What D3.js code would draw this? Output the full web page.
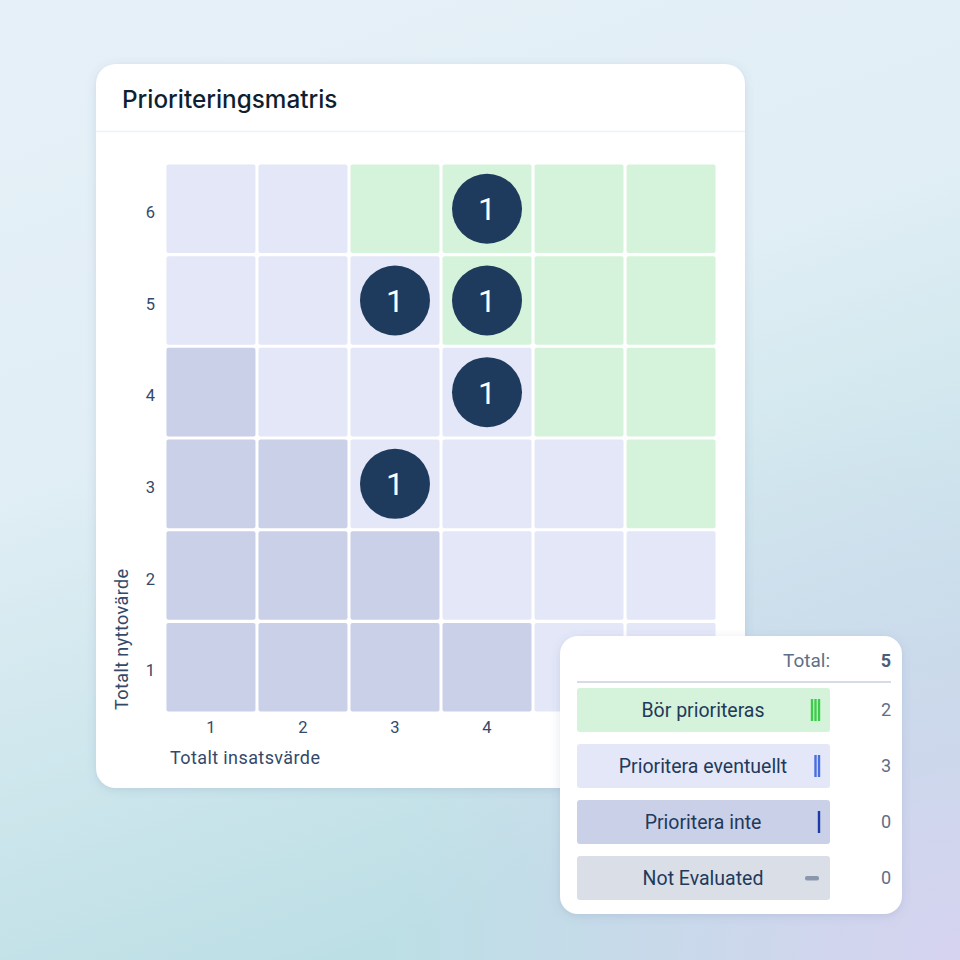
<!DOCTYPE html>
<html><head><meta charset="utf-8">
<script src="https://cdn.jsdelivr.net/npm/d3@7/dist/d3.min.js"></script>
<style>html,body{margin:0;padding:0;}svg{display:block;}</style>
</head><body>
<svg id="c" width="960" height="960"></svg>
<script>
const xTicks = ["1","2","3","4","5","6"];
const yTicks = ["1","2","3","4","5","6"];
// zone per row (y=1..6), columns x=1..6 : G=Bör prioriteras, L=Prioritera eventuellt, D=Prioritera inte
const zoneRows = [
  ["D","D","D","D","L","L"],
  ["D","D","D","L","L","L"],
  ["D","D","L","L","L","G"],
  ["D","L","L","L","G","G"],
  ["L","L","L","G","G","G"],
  ["L","L","G","G","G","G"]
];
const pointX = [4,3,4,4,3];
const pointY = [6,5,5,4,3];
const pointCount = [1,1,1,1,1];
const legendLabels = ["Bör prioriteras","Prioritera eventuellt","Prioritera inte","Not Evaluated"];
const legendCounts = [2,3,0,0];
const totalCount = 5;

const zoneColor = {G:"#d5f3da", L:"#e3e7f8", D:"#c9d0e8"};
const svg = d3.select("#c");
const defs = svg.append("defs");
const bg = defs.append("linearGradient").attr("id","bg").attr("x1","0").attr("y1","0").attr("x2","0.35").attr("y2","1");
bg.append("stop").attr("offset","0").attr("stop-color","#e6f0f8");
bg.append("stop").attr("offset","0.45").attr("stop-color","#e1eef5");
bg.append("stop").attr("offset","1").attr("stop-color","#bcdfe5");
const bg2 = defs.append("radialGradient").attr("id","bg2").attr("cx","1").attr("cy","1").attr("r","0.6");
bg2.append("stop").attr("offset","0").attr("stop-color","#d6d3f0").attr("stop-opacity",1);
bg2.append("stop").attr("offset","1").attr("stop-color","#d6d3f0").attr("stop-opacity",0);
const sh = defs.append("filter").attr("id","sh").attr("x","-10%").attr("y","-10%").attr("width","120%").attr("height","130%");
sh.append("feDropShadow").attr("dx",0).attr("dy",2).attr("stdDeviation",4).attr("flood-color","#5a7090").attr("flood-opacity",0.18);

svg.append("rect").attr("width",960).attr("height",960).attr("fill","url(#bg)");
svg.append("rect").attr("width",960).attr("height",960).attr("fill","url(#bg2)");

// main card
svg.append("rect").attr("x",96).attr("y",64).attr("width",649).attr("height",724).attr("rx",20)
  .attr("fill","#fff").attr("filter","url(#sh)");
svg.append("text").attr("x",122).attr("y",108).text("Prioriteringsmatris")
  .attr("font-family","Inter, 'Noto Sans', sans-serif").attr("font-size",24.3).attr("font-weight",500).attr("fill","#0f1f33");
svg.append("line").attr("x1",96).attr("x2",745).attr("y1",131.5).attr("y2",131.5).attr("stroke","#f0f2f6").attr("stroke-width",1.5);

const x = d3.scaleBand().domain(xTicks).range([166,716]).paddingInner(0.033).paddingOuter(0.005);
const y = d3.scaleBand().domain(yTicks.slice().reverse()).range([164,712]).paddingInner(0.033).paddingOuter(0.005);

const cells = [];
zoneRows.forEach((row,ri)=>row.forEach((z,ci)=>cells.push({x:xTicks[ci],y:yTicks[ri],z})));
svg.append("g").selectAll("rect").data(cells).join("rect")
  .attr("x",d=>x(d.x)).attr("y",d=>y(d.y)).attr("width",x.bandwidth()).attr("height",y.bandwidth())
  .attr("rx",2).attr("fill",d=>zoneColor[d.z]);

const pts = pointX.map((px,i)=>({x:String(px),y:String(pointY[i]),c:pointCount[i]}));
const pg = svg.append("g").selectAll("g").data(pts).join("g")
  .attr("transform",d=>`translate(${x(d.x)+x.bandwidth()/2},${y(d.y)+y.bandwidth()/2})`);
pg.append("circle").attr("r",35).attr("fill","#1e3a5c");
pg.append("text").text(d=>d.c).attr("text-anchor","middle").attr("dy","0.36em")
  .attr("font-family","Roboto, sans-serif").attr("font-size",32).attr("fill","#fff");

// axes
const xAxis = svg.append("g").attr("transform","translate(0,712)")
  .call(d3.axisBottom(x).tickSize(0).tickPadding(9));
const yAxis = svg.append("g").attr("transform","translate(166,0)")
  .call(d3.axisLeft(y).tickSize(0).tickPadding(11));
[xAxis,yAxis].forEach(a=>{a.select(".domain").remove();
  a.selectAll("text").attr("font-family","Roboto, sans-serif").attr("font-size",16.5).attr("fill","#34496a");});
yAxis.selectAll("text").attr("dy","0.55em");

svg.append("text").attr("x",170).attr("y",764).text("Totalt insatsvärde")
  .attr("font-family","Roboto, sans-serif").attr("font-size",18).attr("letter-spacing",0.4).attr("font-weight",400).attr("fill","#34496a");
svg.append("text").attr("transform","translate(128,710) rotate(-90)").text("Totalt nyttovärde")
  .attr("font-family","Roboto, sans-serif").attr("font-size",18).attr("letter-spacing",0.4).attr("font-weight",400).attr("fill","#34496a");

// legend card
svg.append("rect").attr("x",560).attr("y",636).attr("width",342).attr("height",278).attr("rx",18)
  .attr("fill","#fff").attr("filter","url(#sh)");
svg.append("text").attr("x",830).attr("y",667).attr("text-anchor","end").text("Total:")
  .attr("font-family","Roboto, sans-serif").attr("font-size",19).attr("fill","#5d6f88");
svg.append("text").attr("x",891).attr("y",667).attr("text-anchor","end").text(totalCount)
  .attr("font-family","Roboto, sans-serif").attr("font-size",18).attr("font-weight",700).attr("fill","#4a5d78");
svg.append("line").attr("x1",577).attr("x2",891).attr("y1",682).attr("y2",682).attr("stroke","#c9d0dc").attr("stroke-width",1.5);

const lfill = ["#d5f3da","#e3e7f8","#c9d0e8","#dadee6"];
const ly = d3.scaleBand().domain(legendLabels).range([688,900]).paddingInner(0.214);
const lg = svg.append("g").selectAll("g").data(legendLabels).join("g")
  .attr("transform",d=>`translate(0,${ly(d)})`);
lg.append("rect").attr("x",577).attr("width",253).attr("height",ly.bandwidth()).attr("rx",3).attr("fill",(d,i)=>lfill[i]);
lg.append("text").attr("x",703).attr("y",ly.bandwidth()/2).attr("dy","0.35em").attr("text-anchor","middle").text(d=>d)
  .attr("font-family","Roboto, sans-serif").attr("font-size",19.5).attr("fill","#23395a");
lg.append("text").attr("x",891).attr("y",ly.bandwidth()/2).attr("dy","0.35em").attr("text-anchor","end").text((d,i)=>legendCounts[i])
  .attr("font-family","Roboto, sans-serif").attr("font-size",18).attr("fill","#5d6f88");
// icons
const icons = [
  {n:3,c:"#3ccc4a"},{n:2,c:"#4a6ee0"},{n:1,c:"#1c3aa8"},{n:0,c:"#8a97ad"}
];
lg.each(function(d,i){
  const g = d3.select(this), ic = icons[i], h = ly.bandwidth();
  if(ic.n===0){
    g.append("rect").attr("x",805).attr("y",h/2-2).attr("width",14).attr("height",4.5).attr("rx",2).attr("fill",ic.c);
  } else {
    for(let k=0;k<ic.n;k++){
      g.append("rect").attr("x",819-(ic.n-1)*3.5+k*3.5-1.2).attr("y",h/2-11).attr("width",2.4).attr("height",22).attr("fill",ic.c);
    }
  }
});
</script>
</body></html>
